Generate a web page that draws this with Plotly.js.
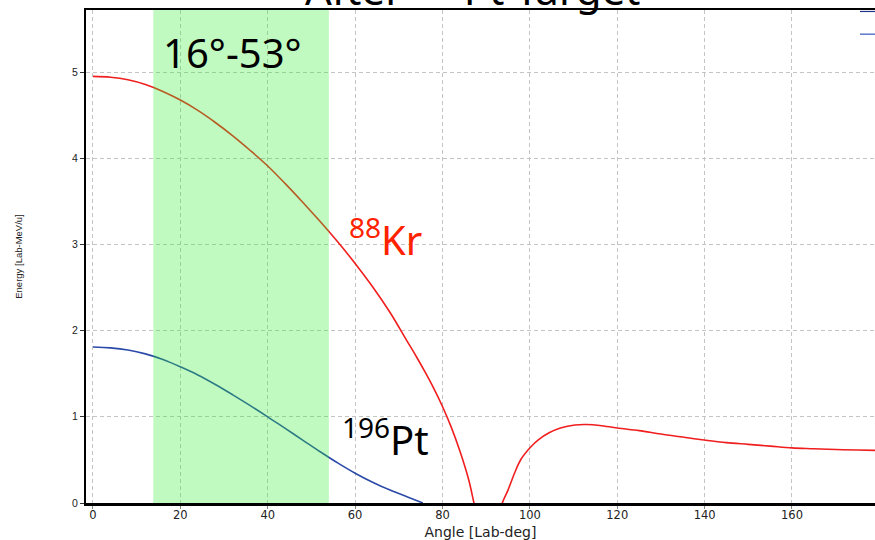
<!DOCTYPE html>
<html>
<head>
<meta charset="utf-8">
<script src="https://cdn.plot.ly/plotly-3.0.1.min.js"></script>
<style>html,body{margin:0;padding:0;background:#fff;overflow:hidden}#chart{width:875px;height:540px}</style>
</head>
<body>
<div id="chart"></div>
<script>
// 88Kr kinematic curve (lab angle in degrees, energy in MeV/u)
const krAngle = [0, 4, 8, 12, 16, 20, 24, 28, 32, 36, 40, 44, 48, 52, 56, 60, 64, 68, 72, 74, 76, 78, 80, 82, 84, 86, 87.2, 88.5, 90.5, 92.5, 93.7, 95, 96.6, 98, 100.2, 102, 104.4, 107, 110.3, 113, 116, 120, 125, 130, 135, 140, 145, 150, 155, 160, 165, 170, 175, 179];
const krEnergy = [4.95, 4.94, 4.91, 4.855, 4.775, 4.675, 4.555, 4.415, 4.26, 4.09, 3.91, 3.705, 3.49, 3.265, 3.03, 2.78, 2.51, 2.21, 1.87, 1.70, 1.52, 1.33, 1.12, 0.88, 0.60, 0.27, 0.0, -0.3, -0.4, -0.3, 0.00, 0.15, 0.36, 0.51, 0.65, 0.735, 0.815, 0.87, 0.905, 0.91, 0.90, 0.87, 0.84, 0.80, 0.765, 0.73, 0.70, 0.68, 0.66, 0.64, 0.63, 0.62, 0.615, 0.61];
// 196Pt kinematic curve
const ptAngle = [0, 4, 8, 12, 16, 20, 24, 28, 32, 36, 40, 44, 48, 52, 56, 60, 64, 68, 72, 75.5];
const ptEnergy = [1.81, 1.80, 1.775, 1.73, 1.665, 1.58, 1.485, 1.375, 1.255, 1.13, 1.00, 0.865, 0.73, 0.595, 0.465, 0.345, 0.24, 0.15, 0.07, 0.0];
// highlighted angular window
const windowRange = [13.8, 54];
const windowLabel = "16°-53°";
const xTicks = [0, 20, 40, 60, 80, 100, 120, 140, 160];
const yTicks = [0, 1, 2, 3, 4, 5];

const traces = [
  {x: krAngle, y: krEnergy, type: 'scatter', mode: 'lines', line: {color: '#f01e1e', width: 1.6, shape: 'spline', smoothing: 1}, showlegend: false, hoverinfo: 'skip'},
  {x: ptAngle, y: ptEnergy, type: 'scatter', mode: 'lines', line: {color: '#2b4aa8', width: 1.6, shape: 'spline', smoothing: 1}, showlegend: false, hoverinfo: 'skip'}
];

const layout = {
  width: 875, height: 540,
  margin: {l: 86, r: 0, t: 10, b: 37},
  paper_bgcolor: '#ffffff', plot_bgcolor: '#ffffff',
  font: {family: 'DejaVu Sans', color: '#000'},
  xaxis: {
    range: [-1.6, 179], tickvals: xTicks, ticktext: xTicks.map(String),
    showgrid: true, gridcolor: '#c4c4c4', griddash: '4px,3px', gridwidth: 1,
    zeroline: false, showline: true, linecolor: '#000', linewidth: 2.5, mirror: true,
    ticks: 'outside', ticklen: 3, tickcolor: '#888', ticklabelstandoff: -3,
    tickfont: {size: 11.5, family: 'DejaVu Sans', color: '#222'},
    title: {text: 'Angle [Lab-deg]', font: {size: 14, family: 'DejaVu Sans', color: '#222'}, standoff: 6}
  },
  yaxis: {
    range: [0, 5.72], tickvals: yTicks, ticktext: yTicks.map(String),
    showgrid: true, gridcolor: '#c4c4c4', griddash: '4px,3px', gridwidth: 1,
    zeroline: false, showline: true, linecolor: '#000', linewidth: 2,
    ticks: 'outside', ticklen: 4, tickcolor: '#333', tickfont: {size: 10.5, family: 'Liberation Sans', color: '#222'},
    title: {text: 'Energy [Lab-MeV/u]', font: {size: 9.5, family: 'Liberation Sans', color: '#222'}, standoff: 48}
  },
  shapes: [
    {type: 'rect', xref: 'x', yref: 'paper', x0: windowRange[0], x1: windowRange[1], y0: 0, y1: 1, fillcolor: '#33ee33', opacity: 0.3, line: {width: 0}, layer: 'above'},
    {type: 'line', xref: 'paper', yref: 'paper', x0: 0.981, x1: 1.0, y0: 0.951, y1: 0.951, line: {color: '#3355bb', width: 1.2}},
    {type: 'line', xref: 'paper', yref: 'paper', x0: 0.981, x1: 1.0, y0: 0.997, y1: 0.997, line: {color: '#223388', width: 1.2}}
  ],
  annotations: [
    {text: 'After <sup>196</sup>Pt Target', xref: 'paper', yref: 'paper', x: 0.491, y: 1.0, yanchor: 'bottom', yshift: -9, showarrow: false, font: {size: 42, family: 'Noto Sans', color: '#000'}},
    {text: windowLabel, xref: 'x', yref: 'y', x: 32, y: 5.02, yanchor: 'bottom', yshift: -12, showarrow: false, font: {size: 40, family: 'Noto Sans', color: '#000'}},
    {text: '<sup>88</sup>Kr', xref: 'x', yref: 'y', x: 67, y: 2.85, yanchor: 'bottom', yshift: -12, showarrow: false, font: {size: 40, family: 'Noto Sans', color: '#ff2200'}},
    {text: '<sup>196</sup>Pt', xref: 'x', yref: 'y', x: 67, y: 0.53, yanchor: 'bottom', yshift: -12, showarrow: false, font: {size: 40, family: 'Noto Sans', color: '#000'}}
  ]
};

Plotly.newPlot('chart', traces, layout, {staticPlot: true, displayModeBar: false});
</script>
</body>
</html>
